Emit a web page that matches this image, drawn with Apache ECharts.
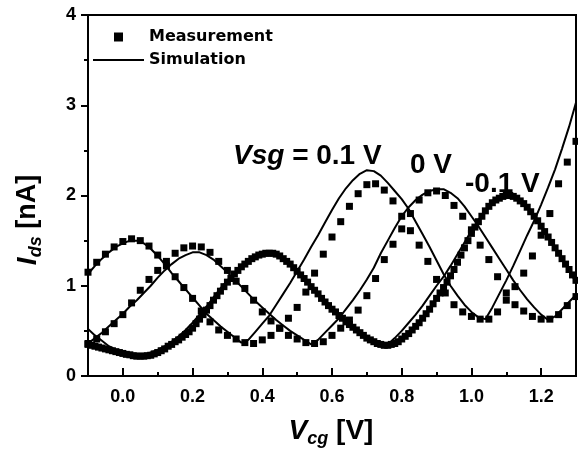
<!DOCTYPE html>
<html>
<head>
<meta charset="utf-8">
<script src="https://cdn.jsdelivr.net/npm/echarts@6/dist/echarts.min.js"></script>
<style>
html, body { margin: 0; padding: 0; background: #fff; }
#chart { width: 578px; height: 461px; }
</style>
</head>
<body>
<div id="chart"></div>
<script>
// Vcg sampling: dense set every 0.01 V, sparse sets every 0.025 V, simulation every 0.02 V
var denseStart = -0.1, denseStep = 0.01, denseCount = 141;
var sparseStart = -0.1, sparseStep = 0.025, sparseCount = 57;
var simStart = -0.1, simStep = 0.02, simCount = 71;

// measured Ids [nA]
var measNeg01 = [ // Vsg = -0.1 V (dense)
    0.35,0.34,0.33,0.32,0.31,0.30,0.29,0.28,0.27,0.26,
    0.25,0.24,0.235,0.225,0.22,0.22,0.22,0.225,0.23,0.245,
    0.26,0.28,0.30,0.33,0.35,0.38,0.40,0.43,0.46,0.49,
    0.53,0.58,0.63,0.68,0.73,0.78,0.84,0.89,0.94,0.99,
    1.04,1.08,1.13,1.17,1.21,1.24,1.27,1.30,1.32,1.34,
    1.35,1.36,1.36,1.36,1.35,1.33,1.30,1.27,1.24,1.20,
    1.16,1.12,1.08,1.04,0.99,0.95,0.91,0.86,0.82,0.78,
    0.74,0.71,0.67,0.64,0.60,0.57,0.54,0.51,0.48,0.45,
    0.42,0.40,0.38,0.36,0.35,0.34,0.34,0.35,0.36,0.38,
    0.41,0.44,0.47,0.51,0.55,0.59,0.64,0.69,0.74,0.80,
    0.86,0.92,0.98,1.04,1.11,1.18,1.26,1.34,1.42,1.50,
    1.58,1.65,1.71,1.77,1.83,1.88,1.92,1.95,1.97,1.99,
    2.00,2.00,1.99,1.97,1.94,1.91,1.87,1.82,1.77,1.72,
    1.66,1.60,1.54,1.48,1.42,1.36,1.30,1.24,1.18,1.12,
    1.06
];
var measPos01 = [ // Vsg = 0.1 V
    1.15,1.26,1.35,1.43, 1.49,1.52,1.50,1.44, 1.34,1.22,1.10,0.98,
    0.86,0.72,0.60,0.51, 0.45,0.41,0.37,0.36, 0.40,0.45,0.53,0.64,
    0.76,0.93,1.14,1.35, 1.54,1.71,1.88,2.02, 2.12,2.13,2.06,1.94,
    1.77,1.61,1.45,1.27, 1.07,0.92,0.79,0.71, 0.66,0.63,0.63,0.71,
    0.84,0.99,1.14,1.33, 1.56,1.80,2.13,2.37, 2.60
];
var measZero = [ // Vsg = 0 V
    0.36,0.41,0.49,0.58, 0.68,0.81,0.95,1.07, 1.17,1.27,1.36,1.42,
    1.44,1.43,1.37,1.27, 1.17,1.05,0.97,0.84, 0.71,0.61,0.53,0.45,
    0.41,0.37,0.36,0.38, 0.45,0.53,0.62,0.73, 0.89,1.08,1.29,1.46,
    1.63,1.80,1.95,2.03, 2.05,2.00,1.89,1.77, 1.62,1.45,1.29,1.10,
    0.92,0.79,0.72,0.66, 0.63,0.63,0.68,0.78, 0.88
];

// simulated Ids [nA]
var simPos01 = [
    1.13,1.22,1.30,1.37,1.43, 1.47,1.50,1.50,1.47,1.41,
    1.33,1.24,1.14,1.05,0.96, 0.87,0.78,0.69,0.62,0.55,
    0.49,0.43,0.37,0.40,0.49, 0.58,0.67,0.79,0.91,1.03,
    1.16,1.29,1.43,1.56,1.70, 1.84,1.97,2.08,2.17,2.24,
    2.28,2.27,2.22,2.14,2.05, 1.96,1.85,1.71,1.57,1.43,
    1.28,1.13,1.00,0.89,0.79, 0.71,0.65,0.63,0.76,0.91,
    1.06,1.22,1.39,1.56,1.72, 1.90,2.09,2.29,2.52,2.76,
    3.03
];
var simZero = [
    0.36,0.42,0.48,0.55,0.62, 0.69,0.77,0.84,0.92,1.00,
    1.09,1.17,1.24,1.30,1.34, 1.37,1.37,1.34,1.29,1.22,
    1.15,1.07,0.99,0.91,0.83, 0.76,0.69,0.62,0.56,0.50,
    0.45,0.40,0.35,0.40,0.48, 0.56,0.64,0.74,0.84,0.95,
    1.07,1.20,1.36,1.50,1.64, 1.77,1.87,1.95,2.01,2.05,
    2.07,2.07,2.03,1.97,1.88, 1.77,1.66,1.54,1.42,1.30,
    1.18,1.06,0.95,0.85,0.76, 0.68,0.62,0.66,0.74,0.82,
    0.90
];
var simNeg01 = [
    0.52,0.45,0.39,0.33,0.29, 0.26,0.24,0.22,0.23,0.26,
    0.29,0.33,0.38,0.44,0.51, 0.59,0.68,0.77,0.87,0.97,
    1.06,1.14,1.21,1.27,1.31, 1.34,1.35,1.34,1.30,1.24,
    1.17,1.09,1.01,0.92,0.84, 0.76,0.68,0.61,0.54,0.48,
    0.43,0.39,0.36,0.35,0.42, 0.50,0.59,0.68,0.78,0.89,
    1.00,1.10,1.22,1.35,1.48, 1.61,1.73,1.83,1.91,1.96,
    1.99,1.99,1.95,1.88,1.78, 1.67,1.55,1.43,1.30,1.17,
    1.04
];

var curveLabels = ["Vsg = 0.1 V", "0 V", "-0.1 V"];

var FONT = "'Liberation Sans', Arial, sans-serif";

function xGrid (start, step, n) {
    var arr = [];
    for (var i = 0; i < n; i++) {
        arr.push(Math.round((start + i * step) * 1000) / 1000);
    }
    return arr;
}
function toPairs (xs, ys) {
    return ys.map(function (y, i) { return [xs[i], y]; });
}

var denseX = xGrid(denseStart, denseStep, denseCount);
var sparseX = xGrid(sparseStart, sparseStep, sparseCount);
var simX = xGrid(simStart, simStep, simCount);

function measSeries (xs, ys) {
    return {
        name: "Measurement",
        type: "scatter",
        symbol: "rect",
        symbolSize: 7,
        itemStyle: { color: "#000", opacity: 1 },
        data: toPairs(xs, ys),
        z: 3
    };
}
function simSeries (ys) {
    return {
        name: "Simulation",
        type: "line",
        symbol: "none",
        showSymbol: false,
        lineStyle: { color: "#000", width: 2 },
        itemStyle: { color: "#000" },
        data: toPairs(simX, ys),
        z: 2
    };
}

var tickFont = { fontFamily: FONT, fontWeight: "bold", fontSize: 18, color: "#000" };

var chart = echarts.init(document.getElementById("chart"));
var option = {
    animation: false,
    backgroundColor: "#fff",
    color: ["#000"],
    grid: {
        left: 88, right: 2, top: 15, bottom: 85,
        show: true, borderColor: "#000", borderWidth: 2
    },
    legend: {
        orient: "vertical",
        left: 93, top: 29, padding: 0,
        itemGap: 7, itemWidth: 51, itemHeight: 9,
        textStyle: { fontFamily: "'DejaVu Sans', sans-serif", fontWeight: "bold", fontSize: 16, color: "#000" },
        data: [
            { name: "Measurement", icon: "path://M0,0L10,0L10,10L0,10Z" },
            { name: "Simulation", icon: "path://M0,0L100,0L100,4L0,4Z" }
        ]
    },
    xAxis: [{
        type: "value",
        min: -0.1, max: 1.3, splitNumber: 7,
        axisLine: { onZero: false, lineStyle: { color: "#000", width: 2 } },
        axisTick: { inside: true, length: 8, lineStyle: { color: "#000", width: 2 } },
        axisLabel: Object.assign({
            margin: 12, showMinLabel: false, showMaxLabel: false,
            formatter: function (v) { return v.toFixed(1); }
        }, tickFont),
        splitLine: { show: false }
    }, {
        // minor ticks every 0.1 V
        type: "value",
        position: "bottom",
        min: -0.1, max: 1.3, interval: 0.1,
        axisLine: { show: false, onZero: false },
        axisTick: { inside: true, length: 4, lineStyle: { color: "#000", width: 2 } },
        axisLabel: { show: false },
        splitLine: { show: false }
    }],
    yAxis: {
        type: "value",
        min: 0, max: 4, interval: 1,
        axisLine: { onZero: false, lineStyle: { color: "#000", width: 2 } },
        axisTick: { inside: false, length: 7, lineStyle: { color: "#000", width: 2 } },
        minorTick: { show: true, splitNumber: 2, length: 4, lineStyle: { color: "#000", width: 2 } },
        axisLabel: Object.assign({ margin: 12 }, tickFont),
        splitLine: { show: false }
    },
    series: [
        measSeries(denseX, measNeg01),
        measSeries(sparseX, measPos01),
        measSeries(sparseX, measZero),
        simSeries(simPos01),
        simSeries(simZero),
        simSeries(simNeg01)
    ],
    graphic: [
        {
            type: "text", x: 331, y: 431, z: 10,
            style: {
                text: "{v|V}{s|cg}{u| [V]}",
                align: "center", verticalAlign: "middle",
                rich: {
                    v: { fontFamily: FONT, fontWeight: "bold", fontStyle: "italic", fontSize: 28, lineHeight: 34, fill: "#000" },
                    s: { fontFamily: FONT, fontWeight: "bold", fontStyle: "italic", fontSize: 18, lineHeight: 16, verticalAlign: "bottom", fill: "#000" },
                    u: { fontFamily: FONT, fontWeight: "bold", fontSize: 28, lineHeight: 34, fill: "#000" }
                }
            }
        },
        {
            type: "text", x: 28, y: 220, rotation: Math.PI / 2, z: 10,
            style: {
                text: "{v|I}{s|ds}{u| [nA]}",
                align: "center", verticalAlign: "middle",
                rich: {
                    v: { fontFamily: FONT, fontWeight: "bold", fontStyle: "italic", fontSize: 28, lineHeight: 34, fill: "#000" },
                    s: { fontFamily: FONT, fontWeight: "bold", fontStyle: "italic", fontSize: 18, lineHeight: 16, verticalAlign: "bottom", fill: "#000" },
                    u: { fontFamily: FONT, fontWeight: "bold", fontSize: 27, lineHeight: 34, fill: "#000" }
                }
            }
        },
        {
            type: "text", x: 233, y: 156, z: 10,
            style: {
                text: "{i|Vsg}{n|" + curveLabels[0].slice(3) + "}",
                align: "left", verticalAlign: "middle",
                rich: {
                    i: { fontFamily: FONT, fontWeight: "bold", fontStyle: "italic", fontSize: 28, fill: "#000" },
                    n: { fontFamily: FONT, fontWeight: "bold", fontSize: 28, fill: "#000" }
                }
            }
        },
        {
            type: "text", x: 410, y: 165, z: 10,
            style: { text: curveLabels[1], align: "left", verticalAlign: "middle", font: "bold 28px " + FONT, fill: "#000" }
        },
        {
            type: "text", x: 465, y: 184, z: 10,
            style: { text: curveLabels[2], align: "left", verticalAlign: "middle", font: "bold 28px " + FONT, fill: "#000" }
        }
    ]
};
chart.setOption(option);
</script>
</body>
</html>
